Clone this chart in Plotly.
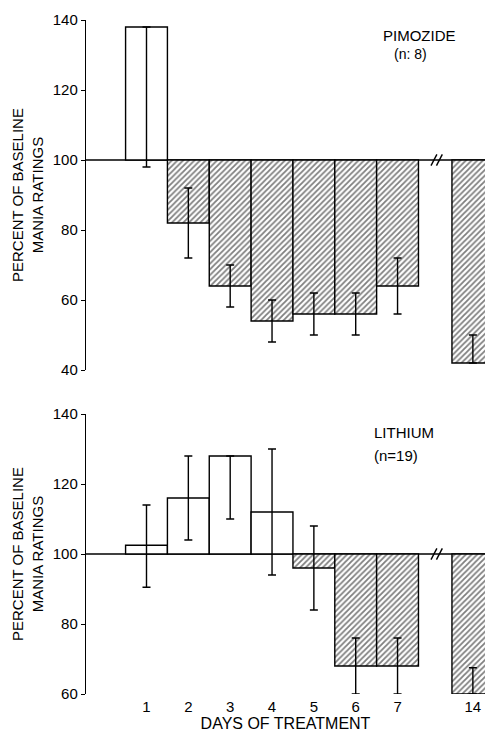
import plotly.graph_objects as go

# ---- data -------------------------------------------------------------
days = ["1", "2", "3", "4", "5", "6", "7", "14"]
day_pos = [1, 2, 3, 4, 5, 6, 7, 8.8]          # category positions (gap before day 14)
baseline = 100

pim_mean = [138, 82, 64, 54, 56, 56, 64, 42]
pim_err_plus = [0, 10, 6, 6, 6, 6, 8, 8]
pim_err_minus = [40, 10, 6, 6, 6, 6, 8, 0]

li_mean = [102.5, 116, 128, 112, 96, 68, 68, 60]
li_err_plus = [11.5, 12, 0, 18, 12, 8, 8, 7.5]
li_err_minus = [12, 12, 18, 18, 12, 8, 8, 0]

y_ticks_top = [40, 60, 80, 100, 120, 140]
y_ticks_bottom = [60, 80, 100, 120, 140]

FONT = "Liberation Sans, Arial, sans-serif"

# ---- layout geometry ----------------------------------------------------
W, H = 485, 736
ML, MR, MT, MB = 86, 0, 20, 42
PH = H - MT - MB
def ydom(top_px, bot_px):
    return [(H - MB - bot_px) / PH, (H - MB - top_px) / PH]

x_range = [-0.446, 9.09]


def panel(mean, ep, em, xa, ya):
    shapes = ["" if v >= baseline else "/" for v in mean]
    return go.Bar(
        x=day_pos,
        y=[v - baseline for v in mean],
        base=baseline,
        width=1.0,
        xaxis=xa,
        yaxis=ya,
        marker=dict(
            color="white",
            line=dict(color="black", width=1.4),
            pattern=dict(shape=shapes, fgcolor="black", bgcolor="white",
                         size=4, solidity=0.45),
        ),
        error_y=dict(type="data", symmetric=False, array=ep, arrayminus=em,
                     color="black", thickness=1.4, width=4),
        showlegend=False,
        hoverinfo="skip",
    )


fig = go.Figure()
fig.add_trace(panel(pim_mean, pim_err_plus, pim_err_minus, "x", "y"))
fig.add_trace(panel(li_mean, li_err_plus, li_err_minus, "x2", "y2"))

# baseline lines and axis-break marks
shapes = []
brk = (7.5 + day_pos[-1] - 0.5) / 2
for xr, yr in (("x", "y"), ("x2", "y2")):
    shapes.append(dict(type="line", xref=xr, yref=yr, x0=x_range[0], x1=x_range[1],
                       y0=baseline, y1=baseline, line=dict(color="black", width=1.4),
                       layer="below"))
    for dx in (-0.1, 0.03):
        shapes.append(dict(type="line", xref=xr, yref=yr,
                           x0=brk + dx, x1=brk + dx + 0.14,
                           y0=baseline - 1.6, y1=baseline + 1.6,
                           line=dict(color="black", width=1.4)))

yaxis_common = dict(
    showline=True, linecolor="black", linewidth=1.4,
    ticks="outside", ticklen=4, tickwidth=1.4, tickcolor="black",
    showgrid=False, zeroline=False,
    tickfont=dict(family=FONT, size=15, color="black"),
)
xaxis_common = dict(range=x_range, showline=False, showgrid=False,
                    zeroline=False, ticks="")

annotations = []
for ya in ("y", "y2"):
    annotations.append(dict(
        text="PERCENT OF BASELINE<br>MANIA RATINGS", textangle=-90,
        xref="paper", x=0, xshift=-59, xanchor="center",
        yref=f"{ya} domain", y=0.5, yanchor="middle", showarrow=False,
        font=dict(family=FONT, size=15, color="black"),
    ))
annotations += [
    dict(text="PIMOZIDE", xref="paper", yref="paper", showarrow=False,
         x=(419 - ML) / (W - ML - MR), y=(H - MB - 35) / PH,
         xanchor="center", yanchor="middle",
         font=dict(family=FONT, size=15, color="black")),
    dict(text="(n: 8)", xref="paper", yref="paper", showarrow=False,
         x=(410 - ML) / (W - ML - MR), y=(H - MB - 54) / PH,
         xanchor="center", yanchor="middle",
         font=dict(family=FONT, size=14, color="black")),
    dict(text="LITHIUM", xref="paper", yref="paper", showarrow=False,
         x=(372 - ML) / (W - ML - MR), y=(H - MB - 432) / PH,
         xanchor="left", yanchor="middle",
         font=dict(family=FONT, size=15, color="black")),
    dict(text="(n=19)", xref="paper", yref="paper", showarrow=False,
         x=(372 - ML) / (W - ML - MR), y=(H - MB - 455) / PH,
         xanchor="left", yanchor="middle",
         font=dict(family=FONT, size=15, color="black")),
]

fig.update_layout(
    width=W, height=H,
    margin=dict(l=ML, r=MR, t=MT, b=MB),
    paper_bgcolor="white", plot_bgcolor="white",
    barmode="overlay",
    xaxis=dict(**xaxis_common, anchor="y", showticklabels=False),
    yaxis=dict(**yaxis_common, domain=ydom(20, 370), range=[40, 140],
               tickvals=y_ticks_top, anchor="x"),
    xaxis2=dict(**xaxis_common, anchor="y2", showticklabels=True,
                tickvals=day_pos, ticktext=days, ticklabelstandoff=2,
                tickfont=dict(family=FONT, size=15, color="black"),
                title=dict(text="DAYS OF TREATMENT", standoff=3,
                           font=dict(family=FONT, size=16, color="black"))),
    yaxis2=dict(**yaxis_common, domain=ydom(414, 694), range=[60, 140],
                tickvals=y_ticks_bottom, anchor="x2"),
    shapes=shapes,
    annotations=annotations,
)

fig.write_html("out.html")
